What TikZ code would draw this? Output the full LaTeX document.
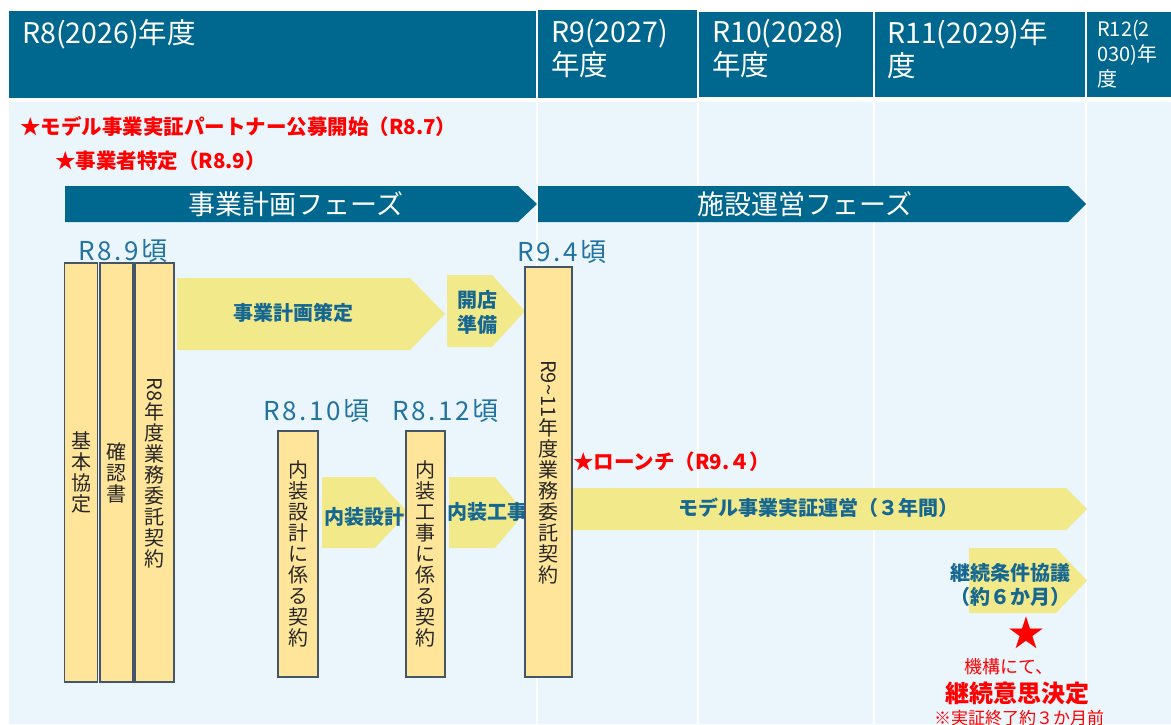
\documentclass[tikz,border=0pt]{standalone}
\usepackage{fontspec}
\setmainfont{Noto Sans CJK JP}
\newfontfamily\lblfont{Noto Sans CJK JP}[LetterSpace=10]
\usepackage{graphicx}
\definecolor{hdrblue}{RGB}{0,104,143}
\definecolor{bgblue}{RGB}{234,246,252}
\definecolor{ylw}{RGB}{242,233,138}
\definecolor{boxfill}{RGB}{255,229,153}
\definecolor{boxline}{RGB}{68,84,106}
\definecolor{atxt}{RGB}{22,104,145}
\definecolor{ltxt}{RGB}{35,115,160}
\definecolor{redc}{RGB}{255,0,0}
\newcommand\chev[6]{\fill[#1] (#2,#4) -- (#3,#4) -- (#5,{(#4+#6)/2}) -- (#3,#6) -- (#2,#6) -- cycle;}
\begin{document}
\begin{tikzpicture}[x=1pt,y=-1pt,
  hdr/.style={text=white, inner sep=0, anchor=north west, align=left, font=\fontsize{28.5}{33}\selectfont},
  hdrsmall/.style={text=white, inner sep=0, anchor=north west, align=left, font=\fontsize{20}{25}\selectfont},
  phasetxt/.style={text=white, inner sep=0, font=\fontsize{27}{30}\selectfont},
  redlbl/.style={text=redc, inner sep=0, anchor=west, font=\bfseries\fontsize{20.5}{24}\selectfont},
  when/.style={text=ltxt, inner sep=0, anchor=west, font=\lblfont\fontsize{26}{30}\selectfont},
  atext/.style={text=atxt, inner sep=0, align=center, font=\bfseries\fontsize{20}{25}\selectfont},
  vbox/.style={draw=boxline, line width=1.5pt, fill=boxfill, inner sep=0, align=center, text=black!85, font=\fontsize{20}{21}\selectfont},
  ]
\useasboundingbox (0,0) rectangle (1171,724);
\clip (0,0) rectangle (1171,724);
\fill[white] (0,0) rectangle (1171,724);
% body background
\fill[bgblue] (9,102) rectangle (1171,724);
\foreach \xx in {537,698,874,1086} \draw[white, line width=2pt] (\xx,102) -- (\xx,724);
% header
\fill[hdrblue] (9,11) rectangle (536,98);
\fill[hdrblue] (538,10) rectangle (697,98);
\fill[hdrblue] (699,12) rectangle (873,97);
\fill[hdrblue] (875,12) rectangle (1085,97);
\fill[hdrblue] (1087,12) rectangle (1171,97);
\node[hdr] (h1) at (22,19) {R8(2026)年度};
\node[hdr] (h2) at (551,19) {R9(2027)\\年度};
\node[hdr] (h3) at (712,19) {R10(2028)\\年度};
\node[hdr] (h4) at (887,19) {R11(2029)年\\度};
\node[hdrsmall] (h5) at (1097,20) {R12(2\\030)年\\度};
% red top labels
\node[redlbl] (r1) at (20,127) {★モデル事業実証パートナー公募開始（R8.7）};
\node[redlbl] (r2) at (55,161) {★事業者特定（R8.9）};
% phase arrows
\chev{hdrblue}{65}{518}{186}{537}{222}
\chev{hdrblue}{538}{1068}{186}{1086}{222}
\node[phasetxt] (p1) at (296,204) {事業計画フェーズ};
\node[phasetxt] (p2) at (805,204) {施設運営フェーズ};
% yellow arrows
\chev{ylw}{177}{410}{278}{445}{350}
\chev{ylw}{447}{492}{275}{525}{347}
\chev{ylw}{322}{375}{477}{408}{548}
\chev{ylw}{449}{495}{477}{525}{548}
\chev{ylw}{565}{1066}{488}{1087}{530}
\chev{ylw}{969}{1056}{548}{1087}{613}
\node[atext] (a1) at (293,313) {事業計画策定};
\node[atext] (a2) at (477,312) {開店\\準備};
\node[atext] (a3) at (364,517) {内装設計};
\node[atext, anchor=west] (a4) at (447,512) {内装工事};
\node[atext] (a5) at (818,508) {モデル事業実証運営（３年間）};
\node[atext, font=\bfseries\fontsize{20}{24}\selectfont] (a6) at (1010,585) {継続条件協議\\（約６か月）};
% vertical boxes
\node[vbox, minimum width=33pt, minimum height=419pt] (b1) at (81,472.5) {基\\本\\協\\定};
\node[vbox, minimum width=33pt, minimum height=419pt] (b2) at (116.5,472.5) {確\\認\\書};
\node[vbox, minimum width=39pt, minimum height=419pt] (b3) at (154.5,472.5) {\rotatebox[origin=c]{-90}{R8}\\年\\度\\業\\務\\委\\託\\契\\約};
\node[vbox, minimum width=47pt, minimum height=410pt] (b4) at (548.5,472) {\rotatebox[origin=c]{-90}{R9\textasciitilde11}\\年\\度\\業\\務\\委\\託\\契\\約};
\node[vbox, minimum width=40pt, minimum height=246pt] (b5) at (298,554) {内\\装\\設\\計\\に\\係\\る\\契\\約};
\node[vbox, minimum width=39pt, minimum height=246pt] (b6) at (425.5,554) {内\\装\\工\\事\\に\\係\\る\\契\\約};
% date labels
\node[when] (w1) at (78,251) {R8.9頃};
\node[when] (w2) at (517,252) {R9.4頃};
\node[when] (w3) at (263,411) {R8.10頃};
\node[when] (w4) at (392,411) {R8.12頃};
% launch
\node[redlbl] (r3) at (573,462) {★ローンチ（R9.４）};
% decision
\node[text=redc, inner sep=0, font=\fontsize{36}{36}\selectfont] (star) at (1026,633) {★};
\node[text=redc, inner sep=0, font=\fontsize{18}{22}\selectfont] (d1) at (1009,667) {機構にて、};
\node[text=redc, inner sep=0, font=\bfseries\fontsize{24}{28}\selectfont] (d2) at (1017,693) {継続意思決定};
\node[text=redc, inner sep=0, font=\fontsize{17}{20}\selectfont] (d3) at (1019,718) {※実証終了約３か月前};
\end{tikzpicture}
\end{document}
